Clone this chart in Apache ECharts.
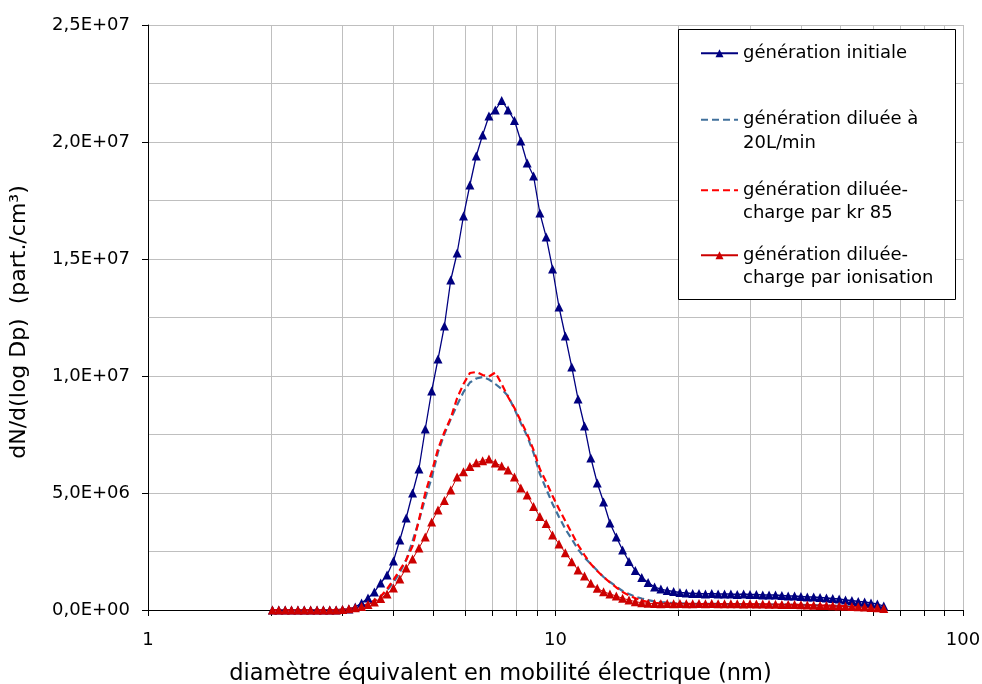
<!DOCTYPE html>
<html><head><meta charset="utf-8">
<script src="https://cdn.jsdelivr.net/npm/echarts@6/dist/echarts.min.js"></script>
<style>html,body{margin:0;padding:0;background:#fff}#c{width:982px;height:684px}</style>
</head><body><div id="c"></div>
<script>
// Diameters (nm)
const diameters = [2.020,2.094,2.171,2.250,2.333,2.418,2.507,2.599,2.694,2.793,
2.895,3.001,3.111,3.225,3.343,3.466,3.593,3.724,3.861,4.002,
4.149,4.301,4.459,4.622,4.791,4.967,5.149,5.338,5.533,5.736,
5.946,6.164,6.390,6.624,6.866,7.118,7.379,7.649,7.930,8.220,
8.521,8.834,9.154,9.489,9.837,10.20,10.57,10.96,11.36,11.78,
12.21,12.66,13.12,13.60,14.10,14.61,15.15,15.70,16.28,16.88,
17.50,18.14,18.80,19.49,20.20,20.94,21.71,22.50,23.33,24.18,
25.07,25.99,26.94,27.93,28.95,30.01,31.11,32.25,33.43,34.66,
35.93,37.24,38.61,40.02,41.49,43.01,44.59,46.22,47.91,49.67,
51.49,53.38,55.33,57.36,59.46,61.64,63.90];

const initiale = [0,0,0,0,0,0,0,0,0,0,0,
2.1e4,4.3e4,1.28e5,2.99e5,5.13e5,7.69e5,1.154e6,1.496e6,2.094e6,2.991e6,
3.932e6,5.000e6,6.026e6,7.735e6,9.359e6,1.0726e7,1.2137e7,1.4103e7,1.5256e7,1.6838e7,
1.8162e7,1.9402e7,2.0299e7,2.1111e7,2.1368e7,2.1774e7,2.1368e7,2.0919e7,2.0043e7,1.9103e7,
1.8547e7,1.6966e7,1.5937e7,1.4573e7,1.2949e7,1.1709e7,1.0385e7,9.017e6,7.863e6,6.496e6,
5.427e6,4.615e6,3.718e6,3.120e6,2.564e6,2.073e6,1.688e6,1.389e6,1.175e6,9.83e5,
8.97e5,8.33e5,7.91e5,7.48e5,7.26e5,7.05e5,7.05e5,6.84e5,7.05e5,6.84e5,
6.84e5,6.84e5,6.62e5,6.84e5,6.62e5,6.62e5,6.41e5,6.41e5,6.41e5,6.20e5,
5.98e5,5.98e5,5.77e5,5.56e5,5.56e5,5.34e5,5.13e5,4.91e5,4.70e5,4.27e5,
4.06e5,3.63e5,3.42e5,2.99e5,2.56e5,1.71e5];

const diluee = [0,0,0,0,0,0,0,0,0,0,0,
2.1e4,4.3e4,8.5e4,1.50e5,2.56e5,3.85e5,5.77e5,8.33e5,1.175e6,1.603e6,
2.137e6,2.949e6,3.803e6,4.786e6,5.641e6,6.752e6,7.521e6,8.162e6,8.760e6,9.316e6,
9.722e6,9.893e6,9.957e6,9.850e6,9.658e6,9.444e6,9.145e6,8.590e6,7.991e6,7.436e6,
6.709e6,5.812e6,5.171e6,4.530e6,3.974e6,3.462e6,3.034e6,2.585e6,2.244e6,1.966e6,
1.688e6,1.410e6,1.197e6,1.004e6,8.12e5,6.84e5,5.68e5,4.91e5,4.19e5,3.72e5,
3.42e5,3.21e5,2.95e5,2.80e5,2.72e5,2.68e5,2.64e5,2.62e5,2.60e5,2.58e5,
2.56e5,2.55e5,2.53e5,2.50e5,2.48e5,2.45e5,2.42e5,2.40e5,2.36e5,2.32e5,
2.28e5,2.23e5,2.18e5,2.12e5,2.05e5,1.98e5,1.90e5,1.82e5,1.73e5,1.64e5,
1.54e5,1.43e5,1.31e5,1.18e5,1.03e5,8.6e4];

const kr85 = [0,0,0,0,0,0,0,0,0,0,0,
2.1e4,4.3e4,8.5e4,1.50e5,2.56e5,4.06e5,5.77e5,8.97e5,1.282e6,1.709e6,
2.137e6,2.735e6,3.846e6,5.000e6,5.897e6,6.880e6,7.607e6,8.205e6,9.060e6,9.658e6,
1.0128e7,1.0171e7,1.0043e7,9.979e6,1.0150e7,9.658e6,9.103e6,8.632e6,8.077e6,7.521e6,
6.838e6,6.026e6,5.470e6,4.872e6,4.316e6,3.803e6,3.291e6,2.778e6,2.350e6,1.966e6,
1.667e6,1.410e6,1.175e6,9.62e5,7.69e5,6.20e5,5.00e5,4.06e5,3.42e5,3.08e5,
2.86e5,2.72e5,2.66e5,2.62e5,2.60e5,2.60e5,2.58e5,2.57e5,2.56e5,2.55e5,
2.54e5,2.52e5,2.50e5,2.48e5,2.46e5,2.44e5,2.41e5,2.38e5,2.35e5,2.31e5,
2.27e5,2.22e5,2.17e5,2.11e5,2.04e5,1.97e5,1.89e5,1.81e5,1.72e5,1.63e5,
1.53e5,1.42e5,1.30e5,1.17e5,1.02e5,8.5e4];

const ionisation = [0,0,0,0,0,0,0,0,0,0,0,
2.1e4,5.1e4,9.4e4,1.50e5,2.35e5,3.42e5,4.91e5,6.84e5,9.40e5,1.325e6,
1.795e6,2.179e6,2.650e6,3.120e6,3.761e6,4.274e6,4.679e6,5.128e6,5.684e6,5.910e6,
6.132e6,6.295e6,6.380e6,6.453e6,6.282e6,6.154e6,5.983e6,5.684e6,5.214e6,4.915e6,
4.423e6,3.996e6,3.697e6,3.205e6,2.821e6,2.449e6,2.064e6,1.709e6,1.453e6,1.141e6,
9.27e5,7.82e5,6.84e5,5.98e5,5.00e5,4.27e5,3.55e5,3.12e5,2.86e5,2.75e5,
2.70e5,2.78e5,2.66e5,2.80e5,2.72e5,2.62e5,2.74e5,2.68e5,2.80e5,2.70e5,
2.62e5,2.72e5,2.66e5,2.58e5,2.64e5,2.55e5,2.60e5,2.50e5,2.46e5,2.40e5,
2.35e5,2.30e5,2.22e5,2.15e5,2.06e5,1.96e5,1.88e5,1.78e5,1.68e5,1.58e5,
1.47e5,1.36e5,1.24e5,1.10e5,9.2e4,6.8e4];

const minorTicks = [2,3,4,5,6,7,8,9,20,30,40,50,60,70,80,90];

const names = ['génération initiale','génération diluée à 20L/min','génération diluée-charge par kr 85','génération diluée-charge par ionisation'];
const legendTexts = ['génération initiale',' \ngénération diluée à\n20L/min',' \ngénération diluée-\ncharge par kr 85',' \ngénération diluée-\ncharge par ionisation'];
const legendTops = [41.5, 84.5, 155, 220];
const legendHasSymbol = [true, false, false, true];

const FONT = 'DejaVu Sans';
const pairs = arr => diameters.map((d, i) => [d, arr[i]]);

function sci(v) {
  if (v === 0) return '0,0E+00';
  const e = Math.floor(Math.log10(v) + 1e-9);
  const m = v / Math.pow(10, e);
  return m.toFixed(1).replace('.', ',') + 'E+' + (e < 10 ? '0' : '') + e;
}

const chart = echarts.init(document.getElementById('c'), null, {renderer: 'canvas'});
const legends = names.map((n, i) => {
  const lg = {
    data: [n], left: 700, top: legendTops[i], orient: 'vertical', padding: 0,
    itemWidth: 37, itemHeight: 10, itemGap: 0, selectedMode: false, z: 60,
    formatter: () => legendTexts[i],
    textStyle: {fontFamily: FONT, fontSize: 18, color: '#000', lineHeight: 23.5}
  };
  if (!legendHasSymbol[i]) lg.itemStyle = {opacity: 0};
  return lg;
});

chart.setOption({
  animation: false,
  textStyle: {fontFamily: FONT},
  grid: {left: 148, right: 19, top: 25, bottom: 74, containLabel: false, outerBoundsMode: 'none'},
  graphic: [{type: 'rect', z: 50, shape: {x: 678.5, y: 29.5, width: 277, height: 270},
    style: {fill: '#fff', stroke: '#000', lineWidth: 1}}],
  legend: legends,
  xAxis: {
    type: 'log', logBase: 10, min: 1, max: 100,
    axisLine: {show: true, onZero: false, lineStyle: {color: '#000', width: 1}},
    axisTick: {show: true, length: 6, lineStyle: {color: '#000'}},
    axisLabel: {fontFamily: FONT, fontSize: 18, color: '#000', margin: 21},
    splitLine: {show: true, lineStyle: {color: '#BFBFBF', width: 1}},
    name: 'diamètre équivalent en mobilité électrique (nm)',
    nameLocation: 'middle', nameGap: 53,
    nameTextStyle: {fontFamily: FONT, fontSize: 22.5, color: '#000', padding: [0, 110, 0, 0]}
  },
  yAxis: {
    type: 'value', min: 0, max: 2.5e7, interval: 5e6,
    axisLine: {show: true, lineStyle: {color: '#000', width: 1}},
    axisTick: {show: true, length: 6, lineStyle: {color: '#000'}},
    axisLabel: {fontFamily: FONT, fontSize: 18, color: '#000', margin: 18, formatter: sci},
    splitLine: {show: true, lineStyle: {color: '#BFBFBF', width: 1}},
    minorTick: {show: false, splitNumber: 2},
    minorSplitLine: {show: true, lineStyle: {color: '#BFBFBF', width: 1}},
    name: 'dN/d(log Dp)  (part./cm³)', nameLocation: 'middle', nameGap: 118,
    nameTextStyle: {fontFamily: FONT, fontSize: 22, color: '#000', padding: [0, 9, 0, 0]}
  },
  series: [
    {
      type: 'custom', name: '_minor', z: 1, clip: false, silent: true,
      data: minorTicks.map(v => [v, 0]),
      renderItem: function (params, api) {
        const x = api.value(0);
        const p0 = api.coord([x, 0]);
        const p1 = api.coord([x, 2.5e7]);
        const px = Math.round(p0[0]) + 0.5;
        return {type: 'group', children: [
          {type: 'line', shape: {x1: px, y1: p0[1], x2: px, y2: p1[1]}, style: {stroke: '#BFBFBF', lineWidth: 1}},
          {type: 'line', shape: {x1: px, y1: p0[1], x2: px, y2: p0[1] + 6}, style: {stroke: '#000', lineWidth: 1}}
        ]};
      }
    },
    {
      name: names[0], type: 'line', data: pairs(initiale), z: 3,
      symbol: 'triangle', symbolSize: 9, showAllSymbol: true,
      lineStyle: {color: '#000080', width: 1.3}, itemStyle: {color: '#000080'}
    },
    {
      name: names[1], type: 'line', data: pairs(diluee), z: 3,
      symbol: 'none', lineStyle: {color: '#41719C', width: 2.2, type: [7, 4]}, itemStyle: {color: '#41719C'}
    },
    {
      name: names[2], type: 'line', data: pairs(kr85), z: 3,
      symbol: 'none', lineStyle: {color: '#FF0000', width: 2.2, type: [7, 4]}, itemStyle: {color: '#FF0000'}
    },
    {
      name: names[3], type: 'line', data: pairs(ionisation), z: 3,
      symbol: 'triangle', symbolSize: 9, showAllSymbol: true,
      lineStyle: {color: '#CC0000', width: 1}, itemStyle: {color: '#CC0000'}
    }
  ]
});
</script>
</body></html>
